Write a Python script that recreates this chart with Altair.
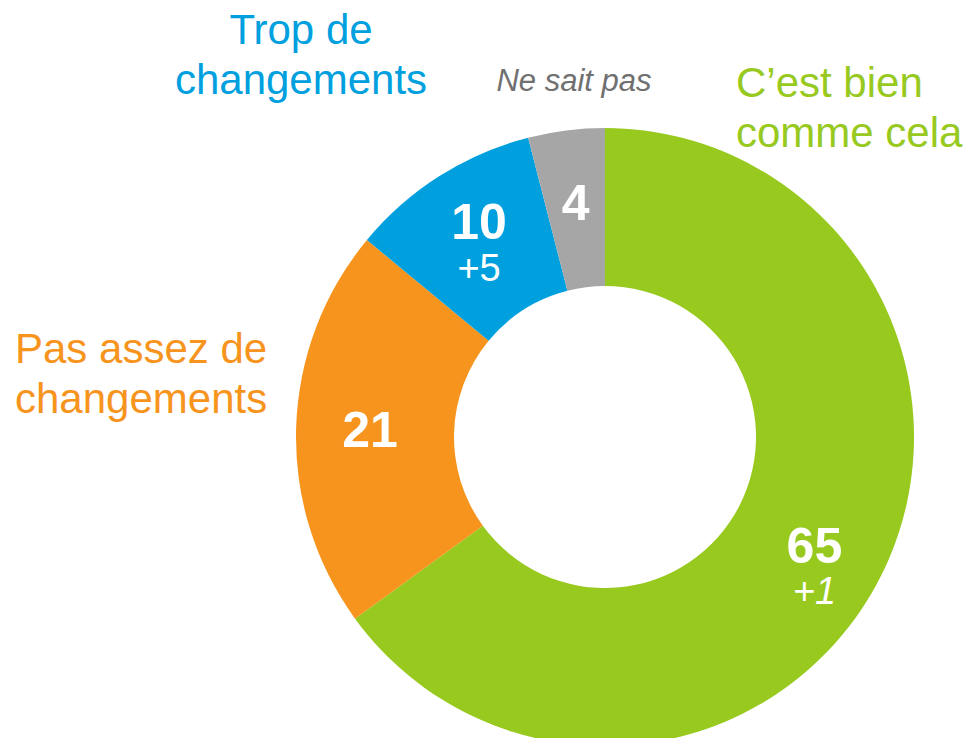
import altair as alt
import pandas as pd

categories = ["C’est bien comme cela", "Pas assez de changements", "Trop de changements", "Ne sait pas"]
values = [65, 21, 10, 4]
deltas = ["+1", "", "+5", ""]
order = [1, 2, 3, 4]
colors = ["#97C91F", "#F7941D", "#00A0DF", "#A6A6A6"]

df = pd.DataFrame({"category": categories, "value": values, "delta": deltas, "order": order})

FONT = "Liberation Sans"
CX, CY = 597, 429
theta_scale = alt.Scale(domain=[0, 100])

arc = alt.Chart(df).mark_arc(radius=309, radius2=151, strokeWidth=0).encode(
    theta=alt.Theta("value:Q", stack=True, scale=theta_scale),
    order=alt.Order("order:Q"),
    color=alt.Color("category:N", scale=alt.Scale(domain=categories, range=colors), legend=None),
    x=alt.value(CX),
    y=alt.value(CY),
)

mid_base = alt.Chart(df).transform_window(
    cum="sum(value)", sort=[alt.SortField("order")], frame=[None, 0]
).transform_calculate(mid="datum.cum - datum.value / 2")

def num_layer(cat, dy, field="value", size=50, weight="bold", style="normal"):
    return mid_base.transform_filter(alt.datum.category == cat).mark_text(
        radius=235, font=FONT, fontSize=size, fontWeight=weight, fontStyle=style,
        color="white", baseline="middle", align="center", dy=dy
    ).encode(
        theta=alt.Theta("mid:Q", stack=None, scale=theta_scale),
        x=alt.value(CX),
        y=alt.value(CY),
        text=alt.Text(f"{field}:N"),
    )

nums = [
    num_layer(categories[0], 4),
    num_layer(categories[1], 2),
    num_layer(categories[2], -15),
    num_layer(categories[3], 1),
    num_layer(categories[0], 49, field="delta", size=38, weight="normal", style="italic"),
    num_layer(categories[2], 31, field="delta", size=38, weight="normal", style="normal"),
]

def outer(lines, x, y, color, align, size=42, style="normal"):
    return alt.Chart(df).transform_filter(alt.datum.order == 1).mark_text(
        text=lines, font=FONT, fontSize=size, fontStyle=style, color=color,
        align=align, baseline="alphabetic", lineHeight=50
    ).encode(x=alt.value(x), y=alt.value(y))

labels = [
    outer(["Trop de", "changements"], 293, 36, colors[2], "center"),
    outer(["Pas assez de", "changements"], 7, 355, colors[1], "left"),
    outer(["C’est bien", "comme cela"], 728, 89, colors[0], "left"),
    outer(["Ne sait pas"], 566, 83, "#707070", "center", size=31, style="italic"),
]

chart = alt.layer(arc, *nums, *labels).properties(
    width=955, height=730, padding=0,
    autosize=alt.AutoSizeParams(type="none", contains="padding"),
).configure_view(stroke=None)

chart.save("out.html", embed_options={"renderer": "svg", "actions": False})
